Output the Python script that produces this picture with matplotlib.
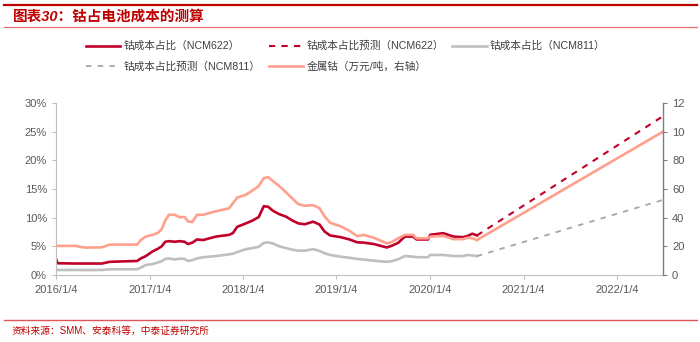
import matplotlib
matplotlib.use("Agg")
import matplotlib.pyplot as plt
from matplotlib.lines import Line2D
from matplotlib.patches import Rectangle
from matplotlib.ticker import FuncFormatter, MultipleLocator
import pandas as pd

plt.rcParams['font.family'] = ['Liberation Sans', 'Noto Sans CJK SC']

# actual series
dates = [
    "2016-01-04", "2016-01-10", "2016-03-22", "2016-04-08", "2016-05-01", "2016-07-01",
    "2016-08-01", "2016-11-16", "2016-12-01", "2016-12-20", "2017-01-15", "2017-02-06",
    "2017-02-20", "2017-03-06", "2017-03-20", "2017-04-12", "2017-05-01", "2017-05-20",
    "2017-06-03", "2017-06-20", "2017-07-08", "2017-08-01", "2017-09-20", "2017-11-10",
    "2017-11-25", "2017-12-12", "2018-01-15", "2018-02-10", "2018-03-06", "2018-03-26",
    "2018-04-12", "2018-05-01", "2018-05-26", "2018-06-20", "2018-07-16", "2018-08-08",
    "2018-09-02", "2018-10-05", "2018-10-30", "2018-11-18", "2018-12-10", "2019-01-20",
    "2019-02-24", "2019-03-26", "2019-04-20", "2019-05-30", "2019-07-20", "2019-08-08",
    "2019-09-02", "2019-09-28", "2019-10-30", "2019-11-13", "2019-12-28", "2020-01-05",
    "2020-02-25", "2020-04-05", "2020-05-12", "2020-05-30", "2020-06-18", "2020-07-06",
]
ncm622 = [
    2.8, 2.05, 2.0, 2.0, 2.0, 2.0,
    2.3, 2.45, 2.9, 3.3, 4.1, 4.6,
    5.0, 5.8, 5.9, 5.8, 5.9, 5.8,
    5.4, 5.65, 6.2, 6.1, 6.7, 7.0,
    7.3, 8.4, 9.0, 9.5, 10.1, 12.0,
    11.9, 11.2, 10.6, 10.2, 9.5, 9.0,
    8.85, 9.3, 8.8, 7.6, 6.9, 6.6,
    6.2, 5.7, 5.65, 5.4, 4.8, 5.1,
    5.6, 6.7, 6.7, 6.2, 6.2, 7.0,
    7.3, 6.7, 6.6, 6.8, 7.2, 6.9,
]
ncm811 = [
    0.87, 0.87, 0.87, 0.87, 0.87, 0.87,
    1.0, 1.0, 1.3, 1.75, 1.9, 2.2,
    2.4, 2.8, 2.9, 2.7, 2.85, 2.8,
    2.45, 2.6, 2.9, 3.1, 3.3, 3.6,
    3.7, 4.0, 4.5, 4.7, 4.9, 5.6,
    5.7, 5.5, 5.0, 4.7, 4.4, 4.25,
    4.25, 4.5, 4.2, 3.8, 3.5, 3.2,
    3.0, 2.8, 2.7, 2.5, 2.3, 2.4,
    2.75, 3.3, 3.2, 3.1, 3.1, 3.5,
    3.5, 3.3, 3.3, 3.5, 3.4, 3.3,
]
cobalt = [
    20.3, 20.3, 20.3, 19.6, 19.1, 19.3,
    21.2, 21.2, 24.5, 26.8, 28.0, 29.5,
    32.0, 38.0, 42.0, 42.0, 40.3, 40.5,
    37.3, 37.0, 42.0, 42.0, 44.5, 46.5,
    50.0, 54.0, 56.0, 59.0, 62.0, 67.6,
    68.3, 65.5, 62.0, 57.8, 53.3, 49.4,
    48.3, 48.7, 46.6, 41.0, 36.5, 34.0,
    30.8, 27.0, 28.0, 26.0, 22.1, 23.0,
    25.6, 28.0, 28.0, 25.6, 25.6, 26.8,
    27.3, 25.0, 25.0, 26.0, 25.6, 24.4,
]

# forecast
fc_dates = ["2020-07-06", "2022-07-03"]
ncm622_fc = [6.9, 27.7]
ncm811_fc = [3.3, 13.1]
cobalt_fc = [24.4, 100.0]

year_ticks = ["2016-01-04", "2017-01-04", "2018-01-04", "2019-01-04",
              "2020-01-04", "2021-01-04", "2022-01-04"]
year_labels = ["2016/1/4", "2017/1/4", "2018/1/4", "2019/1/4",
               "2020/1/4", "2021/1/4", "2022/1/4"]

RED = "#C0002A"
SALMON = "#FFA08C"
GREY = "#BFBFBF"
GREY_D = "#A6A6A6"
TXT = "#595959"

d = pd.to_datetime(dates)
fd = pd.to_datetime(fc_dates)

fig = plt.figure(figsize=(7, 3.42), dpi=100)
ax = fig.add_axes([56/700, 1-275/342, (663-56)/700, (275-103)/342])
ax2 = ax.twinx()

l1, = ax.plot(d, ncm622, color=RED, lw=1.9, label="钴成本占比（NCM622）")
l2, = ax.plot(fd, ncm622_fc, color=RED, lw=1.5, ls=(0, (3, 3)), label="钴成本占比预测（NCM622）")
l3, = ax.plot(d, ncm811, color=GREY, lw=1.9, label="钴成本占比（NCM811）")
l4, = ax.plot(fd, ncm811_fc, color=GREY_D, lw=1.3, ls=(0, (3, 3.5)), label="钴成本占比预测（NCM811）")
l5, = ax2.plot(d, cobalt, color=SALMON, lw=1.9, label="金属钴（万元/吨，右轴）")
ax2.plot(fd, cobalt_fc, color=SALMON, lw=1.9)

ax.set_xlim(pd.Timestamp("2016-01-04"), pd.Timestamp("2022-07-03"))
ax.set_ylim(0, 30)
ax2.set_ylim(0, 120)
ax.yaxis.set_major_locator(MultipleLocator(5))
ax.yaxis.set_major_formatter(FuncFormatter(lambda v, p: f"{v:.0f}%"))
ax2.yaxis.set_major_locator(MultipleLocator(20))
ax.set_xticks(pd.to_datetime(year_ticks))
ax.set_xticklabels(year_labels)

for a in (ax, ax2):
    a.spines["top"].set_visible(False)
    a.patch.set_visible(False)
ax.spines["right"].set_visible(False)
ax.spines["left"].set_color("#BFBFBF")
ax.spines["bottom"].set_color("#BFBFBF")
ax2.spines["left"].set_visible(False)
ax2.spines["bottom"].set_visible(False)
ax2.spines["right"].set_color("#7F7F7F")
ax2.spines["right"].set_linewidth(1.0)
ax.tick_params(axis="both", colors="#BFBFBF", labelcolor=TXT, labelsize=8, length=3)
ax.tick_params(axis="x", pad=4)
ax2.tick_params(axis="y", colors="#7F7F7F", labelcolor=TXT, labelsize=8, length=3)

order = [l1, l4, l2, l5, l3]
leg = fig.legend(order, [h.get_label() for h in order],
                 ncol=3, loc="upper left", bbox_to_anchor=(86/700, 1-41/342),
                 bbox_transform=fig.transFigure, frameon=False, fontsize=7.7,
                 handlelength=3.2, handletextpad=0.3, columnspacing=0.8,
                 labelspacing=0.95, borderpad=0, borderaxespad=0)
for t in leg.get_texts():
    t.set_color("#404040")

# header / footer rules and texts
fig.add_artist(Line2D([4/700, 697/700], [1-5/342, 1-5/342], color="#C00000", lw=1.6))
fig.text(13/700, 1-16.5/342, "图表30：钴占电池成本的测算", color="#C00000",
         fontsize=10.5, fontweight="bold", style="italic", va="center", ha="left")
fig.add_artist(Line2D([4/700, 697/700], [1-27/342, 1-27/342], color="#E47070", lw=0.9))
fig.add_artist(Line2D([4/700, 697/700], [1-320/342, 1-320/342], color="#E05555", lw=1.0))
fig.text(12/700, 1-330.5/342, "资料来源：SMM、安泰科等，中泰证券研究所", color="#C00000",
         fontsize=7, va="center", ha="left")

# right edge of the chart box cuts the axis labels
fig.add_artist(Rectangle((685/700, 1-300/342), 15/700, 205/342, transform=fig.transFigure,
                         facecolor="white", edgecolor="none", zorder=10))

fig.savefig("out.png", dpi=100)
